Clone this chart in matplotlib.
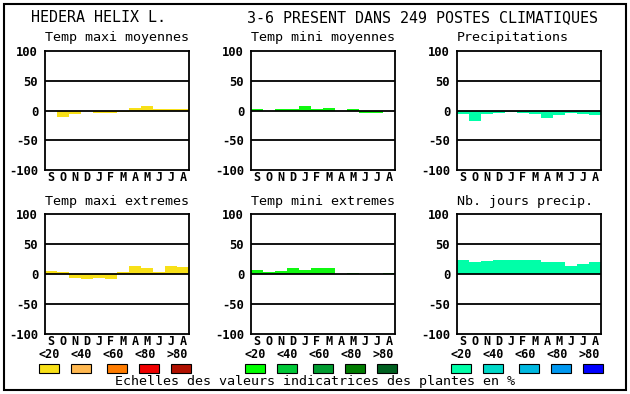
import matplotlib
matplotlib.use("Agg")
import matplotlib.pyplot as plt
from matplotlib.patches import Rectangle

months = ["S", "O", "N", "D", "J", "F", "M", "A", "M", "J", "J", "A"]

temp_maxi_moy = [0, -11, -6, 0, -4, -4, -2, 5, 7, 3, 2, 2]
temp_mini_moy = [2, 0, 2, 3, 7, 3, 5, 0, 3, -5, -5, 0]
precipitations = [-6, -18, -6, -5, -3, -5, -6, -13, -8, -5, -6, -8]
temp_maxi_ext = [5, 3, -7, -8, -7, -8, 3, 13, 10, 3, 13, 12]
temp_mini_ext = [7, 3, 5, 10, 7, 10, 10, 0, 2, 0, 0, 2]
nb_jours_precip = [23, 20, 22, 23, 23, 23, 23, 20, 20, 13, 17, 20]

titles = ["Temp maxi moyennes", "Temp mini moyennes", "Precipitations",
          "Temp maxi extremes", "Temp mini extremes", "Nb. jours precip."]
series = [temp_maxi_moy, temp_mini_moy, precipitations,
          temp_maxi_ext, temp_mini_ext, nb_jours_precip]
bar_colors = ["#f8e018", "#10f810", "#00ffa8",
              "#f8e018", "#10f810", "#00ffa8"]

yticks = [100, 50, 0, -50, -100]
legend_labels = ["<20", "<40", "<60", "<80", ">80"]
legend_yellow = ["#f8e018", "#ffb850", "#ff7c00", "#f00000", "#b01000"]
legend_green = ["#00ff00", "#00c838", "#009c30", "#007c00", "#006020"]
legend_blue = ["#00ffa8", "#00d8c8", "#00b8e0", "#0098f0", "#0000ff"]

W, H = 630, 394
fig = plt.figure(figsize=(6.3, 3.94), dpi=100)
fig.patch.set_facecolor("white")
mono = "DejaVu Sans Mono"

def fx(x):
    return x / W

def fy(y):
    return 1 - y / H

# outer frame
fig.patches.append(Rectangle((fx(4), fy(390)), fx(622), 386 / H,
                             transform=fig.transFigure, fill=False,
                             edgecolor="black", linewidth=1.5))

fig.text(fx(31), fy(18), "HEDERA HELIX L.", family=mono, fontsize=10.8,
         va="center", ha="left")
fig.text(fx(247), fy(18), "3-6 PRESENT DANS 249 POSTES CLIMATIQUES",
         family=mono, fontsize=10.8, va="center", ha="left")

lefts = [45, 251, 457]
rows = [(51, 170, 38), (214, 334, 202)]

for i, (title, vals, col) in enumerate(zip(titles, series, bar_colors)):
    r, c = divmod(i, 3)
    top, bot, ty = rows[r]
    left = lefts[c]
    ax = fig.add_axes([fx(left), fy(bot), fx(144), (bot - top) / H])
    ax.bar(range(12), vals, width=1.0, align="edge", color=col,
           linewidth=0, zorder=1)
    for yv in (50, 0, -50):
        ax.axhline(yv, color="black", linewidth=1.3, zorder=3)
    ax.set_xlim(0, 12)
    ax.set_ylim(-100, 100)
    ax.set_yticks(yticks)
    ax.set_yticklabels([str(v) for v in yticks], family=mono,
                       fontweight="bold", fontsize=8.7)
    ax.set_xticks([k + 0.5 for k in range(12)])
    ax.set_xticklabels(months, family=mono, fontweight="bold", fontsize=8.5)
    ax.tick_params(axis="x", length=0, pad=0.8)
    ax.tick_params(axis="y", length=0, pad=5)
    for sp in ax.spines.values():
        sp.set_linewidth(1.3)
    fig.text(fx(left), fy(ty), title, family=mono, fontsize=9.6,
             va="center", ha="left")

# legends
def draw_legend(x0, colors):
    label_off = [0, 32, 64, 96, 128]
    box_off = [0, 32, 68, 100, 132]
    for lab, lo in zip(legend_labels, label_off):
        fig.text(fx(x0 + lo), fy(355), lab, family=mono, fontweight="bold",
                 fontsize=8.5, ha="center", va="center")
    for colr, bo in zip(colors, box_off):
        fig.patches.append(Rectangle((fx(x0 + bo - 10), fy(373)), fx(20),
                                     9 / H, transform=fig.transFigure,
                                     facecolor=colr, edgecolor="black",
                                     linewidth=0.8))

draw_legend(49, legend_yellow)
draw_legend(255, legend_green)
draw_legend(461, legend_blue)

fig.text(fx(115), fy(382), "Echelles des valeurs indicatrices des plantes en %",
         family=mono, fontsize=9.6, ha="left", va="center")

fig.savefig("out.png", dpi=100, facecolor="white")
